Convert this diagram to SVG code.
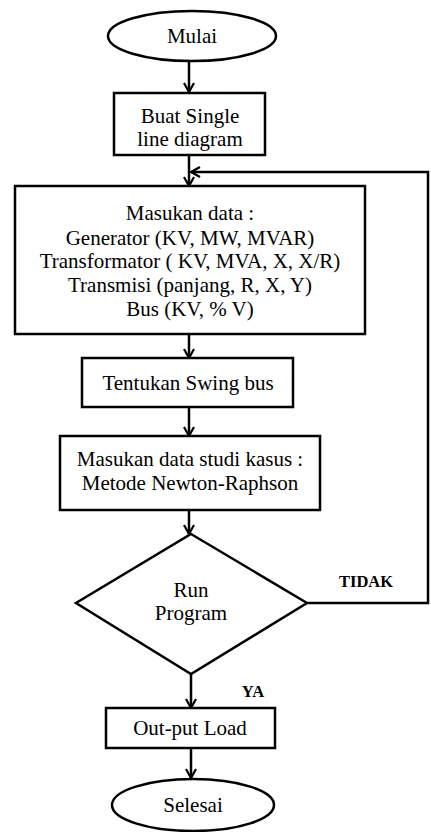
<svg xmlns="http://www.w3.org/2000/svg" width="431" height="832" viewBox="0 0 431 832">
<style>
.s{fill:#fff;stroke:#000;stroke-width:2.5}
.t{font-family:"Liberation Serif",serif;font-size:21px;fill:#000;text-anchor:middle}
.b{font-family:"Liberation Serif",serif;font-size:16.5px;font-weight:bold;fill:#000;text-anchor:middle}
.c{fill:none;stroke:#000;stroke-width:2.5}
</style>
<defs>
<marker id="a" viewBox="0 0 12 12" refX="11" refY="6" markerWidth="12" markerHeight="12" markerUnits="userSpaceOnUse" orient="auto">
<polyline points="2,1 11,6 2,11" fill="none" stroke="#000" stroke-width="2.2"/>
</marker>
</defs>
<g id="connectors">
<line class="c" x1="189" y1="62" x2="189" y2="92" marker-end="url(#a)"/>
<line class="c" x1="189" y1="155" x2="189" y2="186" marker-end="url(#a)"/>
<line class="c" x1="189" y1="334" x2="189" y2="358" marker-end="url(#a)"/>
<line class="c" x1="189" y1="407" x2="189" y2="436" marker-end="url(#a)"/>
<line class="c" x1="189" y1="510" x2="189" y2="534" marker-end="url(#a)"/>
<line class="c" x1="191" y1="674" x2="191" y2="708" marker-end="url(#a)"/>
<line class="c" x1="191" y1="748" x2="191" y2="778" marker-end="url(#a)"/>
<polyline class="c" points="307,603 428,603 428,172 191,172" marker-end="url(#a)"/>
<text class="b" x="366" y="587">TIDAK</text>
<text class="b" x="253" y="697">YA</text>
</g>
<g id="mulai">
<ellipse class="s" cx="192" cy="36" rx="84" ry="25"/>
<text class="t" x="192" y="43">Mulai</text>
</g>
<g id="buat">
<rect class="s" x="114" y="93" width="151" height="62"/>
<text class="t" x="190" y="123">Buat Single</text>
<text class="t" x="190" y="146">line diagram</text>
</g>
<g id="masukan">
<rect class="s" x="15" y="186" width="350" height="148"/>
<text class="t" x="190" y="220">Masukan data :</text>
<text class="t" x="190" y="245">Generator (KV, MW, MVAR)</text>
<text class="t" x="190" y="268">Transformator ( KV, MVA, X, X/R)</text>
<text class="t" x="190" y="292">Transmisi (panjang, R, X, Y)</text>
<text class="t" x="190" y="316">Bus (KV,  % V)</text>
</g>
<g id="swing">
<rect class="s" x="82" y="358" width="211" height="49"/>
<text class="t" x="188" y="390">Tentukan Swing bus</text>
</g>
<g id="studi">
<rect class="s" x="60" y="436" width="260" height="74"/>
<text class="t" x="190" y="466">Masukan data studi kasus :</text>
<text class="t" x="190" y="490">Metode Newton-Raphson</text>
</g>
<g id="run">
<polygon class="s" points="191,534 307,603 191,674 76,603"/>
<text class="t" x="191" y="597">Run</text>
<text class="t" x="191" y="620">Program</text>
</g>
<g id="output">
<rect class="s" x="106" y="708" width="169" height="40"/>
<text class="t" x="190" y="735">Out-put Load</text>
</g>
<g id="selesai">
<ellipse class="s" cx="193" cy="805" rx="81" ry="26"/>
<text class="t" x="193" y="812">Selesai</text>
</g>
</svg>
